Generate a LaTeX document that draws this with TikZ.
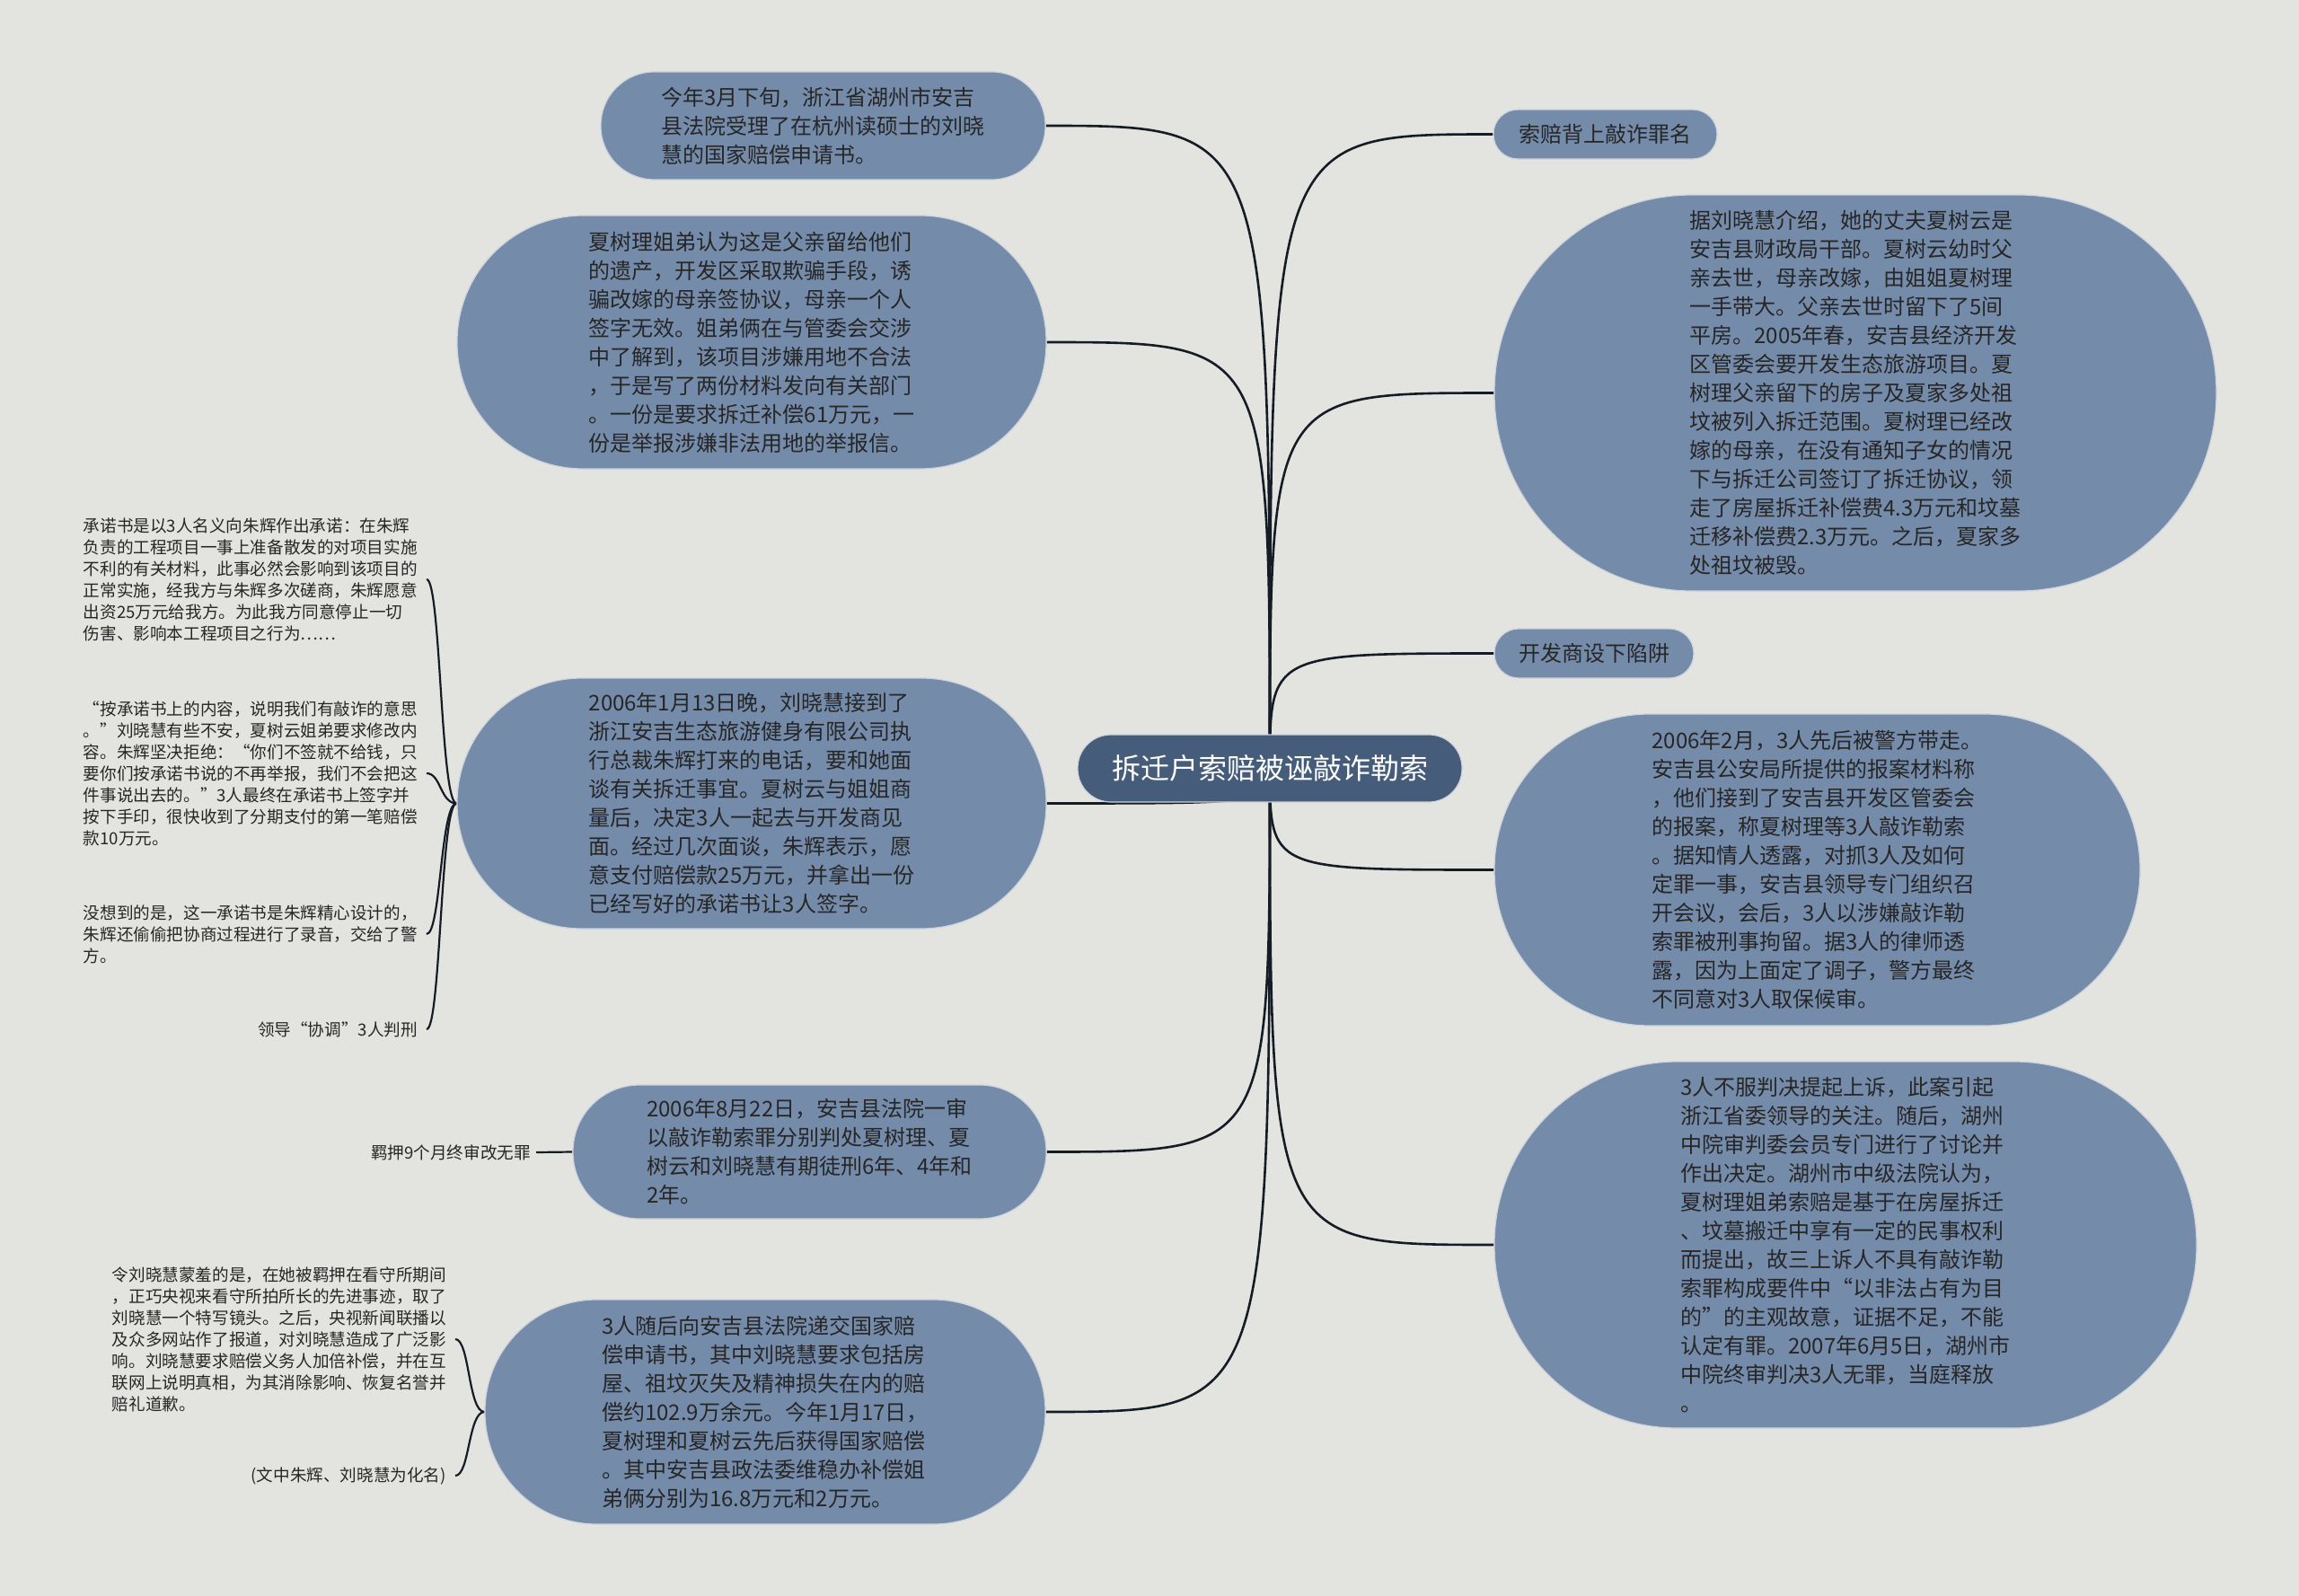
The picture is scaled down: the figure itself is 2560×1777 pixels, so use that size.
\documentclass[tikz,border=0pt]{standalone}
\usepackage{fontspec}
\setmainfont{Noto Sans CJK SC}
\usetikzlibrary{calc}
\pgfdeclarelayer{bglayer}
\pgfsetlayers{bglayer,main}
\definecolor{bgc}{RGB}{227,228,224}
\definecolor{boxc}{RGB}{117,139,170}
\definecolor{rootc}{RGB}{69,92,122}
\definecolor{edgec}{RGB}{205,212,222}
\definecolor{linec}{RGB}{22,28,38}
\definecolor{txtc}{RGB}{38,38,38}
\begin{document}
\begin{tikzpicture}[x=1pt,y=-1pt,
  topic/.style={rectangle, fill=boxc, draw=edgec, line width=1.2pt, inner sep=0pt, align=left, text=txtc, font=\fontsize{24}{32}\selectfont},
  root/.style={rectangle, fill=rootc, draw=edgec, line width=1.2pt, inner sep=0pt, text=white, font=\fontsize{32}{38}\selectfont},
  leaf/.style={inner sep=0pt, align=left, text=txtc, font=\fontsize{18.6}{24}\selectfont},
  conn/.style={draw=linec, line width=2.6pt},
  leafconn/.style={draw=linec, line width=2.2pt},
]
\useasboundingbox (0,0) rectangle (2560,1777);

% root
\node[root, minimum width=428pt, minimum height=75pt, rounded corners=37pt] (C) at (1414,855.5) {拆迁户索赔被诬敲诈勒索};

% left topics
\node[topic, minimum width=495pt, minimum height=120pt, rounded corners=59.5pt] (N1) at (916.5,140) {今年3月下旬，浙江省湖州市安吉\\县法院受理了在杭州读硕士的刘晓\\慧的国家赔偿申请书。};
\node[topic, minimum width=656pt, minimum height=282pt, rounded corners=140.5pt] (N2) at (837,381) {夏树理姐弟认为这是父亲留给他们\\的遗产，开发区采取欺骗手段，诱\\骗改嫁的母亲签协议，母亲一个人\\签字无效。姐弟俩在与管委会交涉\\中了解到，该项目涉嫌用地不合法\\，于是写了两份材料发向有关部门\\。一份是要求拆迁补偿61万元，一\\份是举报涉嫌非法用地的举报信。};
\node[topic, minimum width=656pt, minimum height=279pt, rounded corners=139pt] (N3) at (837,894.5) {2006年1月13日晚，刘晓慧接到了\\浙江安吉生态旅游健身有限公司执\\行总裁朱辉打来的电话，要和她面\\谈有关拆迁事宜。夏树云与姐姐商\\量后，决定3人一起去与开发商见\\面。经过几次面谈，朱辉表示，愿\\意支付赔偿款25万元，并拿出一份\\已经写好的承诺书让3人签字。};
\node[topic, minimum width=527pt, minimum height=149pt, rounded corners=74pt] (N4) at (901.5,1282.5) {2006年8月22日，安吉县法院一审\\以敲诈勒索罪分别判处夏树理、夏\\树云和刘晓慧有期徒刑6年、4年和\\2年。};
\node[topic, minimum width=624pt, minimum height=250pt, rounded corners=124.5pt] (N5) at (852,1572) {3人随后向安吉县法院递交国家赔\\偿申请书，其中刘晓慧要求包括房\\屋、祖坟灭失及精神损失在内的赔\\偿约102.9万余元。今年1月17日，\\夏树理和夏树云先后获得国家赔偿\\。其中安吉县政法委维稳办补偿姐\\弟俩分别为16.8万元和2万元。};

% right topics
\node[topic, minimum width=249pt, minimum height=55pt, rounded corners=27pt] (R1) at (1787.5,149.5) {索赔背上敲诈罪名};
\node[topic, minimum width=804pt, minimum height=441pt, rounded corners=220pt] (R2) at (2066,437.5) {据刘晓慧介绍，她的丈夫夏树云是\\安吉县财政局干部。夏树云幼时父\\亲去世，母亲改嫁，由姐姐夏树理\\一手带大。父亲去世时留下了5间\\平房。2005年春，安吉县经济开发\\区管委会要开发生态旅游项目。夏\\树理父亲留下的房子及夏家多处祖\\坟被列入拆迁范围。夏树理已经改\\嫁的母亲，在没有通知子女的情况\\下与拆迁公司签订了拆迁协议，领\\走了房屋拆迁补偿费4.3万元和坟墓\\迁移补偿费2.3万元。之后，夏家多\\处祖坟被毁。};
\node[topic, minimum width=222pt, minimum height=55pt, rounded corners=27pt] (R3) at (1775,727.5) {开发商设下陷阱};
\node[topic, minimum width=719pt, minimum height=347pt, rounded corners=173pt] (R4) at (2023.5,968.5) {2006年2月，3人先后被警方带走。\\安吉县公安局所提供的报案材料称\\，他们接到了安吉县开发区管委会\\的报案，称夏树理等3人敲诈勒索\\。据知情人透露，对抓3人及如何\\定罪一事，安吉县领导专门组织召\\开会议，会后，3人以涉嫌敲诈勒\\索罪被刑事拘留。据3人的律师透\\露，因为上面定了调子，警方最终\\不同意对3人取保候审。};
\node[topic, minimum width=782pt, minimum height=408pt, rounded corners=203.5pt] (R5) at (2055,1386) {3人不服判决提起上诉，此案引起\\浙江省委领导的关注。随后，湖州\\中院审判委会员专门进行了讨论并\\作出决定。湖州市中级法院认为，\\夏树理姐弟索赔是基于在房屋拆迁\\、坟墓搬迁中享有一定的民事权利\\而提出，故三上诉人不具有敲诈勒\\索罪构成要件中“以非法占有为目\\的”的主观故意，证据不足，不能\\认定有罪。2007年6月5日，湖州市\\中院终审判决3人无罪，当庭释放\\。};

% leaves
\node[leaf, anchor=east] (A1) at (465,645) {承诺书是以3人名义向朱辉作出承诺：在朱辉\\负责的工程项目一事上准备散发的对项目实施\\不利的有关材料，此事必然会影响到该项目的\\正常实施，经我方与朱辉多次磋商，朱辉愿意\\出资25万元给我方。为此我方同意停止一切\\伤害、影响本工程项目之行为……};
\node[leaf, anchor=east] (A2) at (465,861) {“按承诺书上的内容，说明我们有敲诈的意思\\。”刘晓慧有些不安，夏树云姐弟要求修改内\\容。朱辉坚决拒绝：“你们不签就不给钱，只\\要你们按承诺书说的不再举报，我们不会把这\\件事说出去的。”3人最终在承诺书上签字并\\按下手印，很快收到了分期支付的第一笔赔偿\\款10万元。};
\node[leaf, anchor=east] (A3) at (465,1040) {没想到的是，这一承诺书是朱辉精心设计的，\\朱辉还偷偷把协商过程进行了录音，交给了警\\方。};
\node[leaf, anchor=east] (A4) at (465,1146) {领导“协调”3人判刑};
\node[leaf, anchor=east] (B1) at (591,1283) {羁押9个月终审改无罪};
\node[leaf, anchor=east] (C1) at (497,1491) {令刘晓慧蒙羞的是，在她被羁押在看守所期间\\，正巧央视来看守所拍所长的先进事迹，取了\\刘晓慧一个特写镜头。之后，央视新闻联播以\\及众多网站作了报道，对刘晓慧造成了广泛影\\响。刘晓慧要求赔偿义务人加倍补偿，并在互\\联网上说明真相，为其消除影响、恢复名誉并\\赔礼道歉。};
\node[leaf, anchor=east] (C2) at (497,1643) {(文中朱辉、刘晓慧为化名)};

\begin{pgfonlayer}{bglayer}
\fill[bgc] (0,0) rectangle (2560,1777);
\foreach \n in {N1,N2,N3,N4,N5}
  \draw[conn] (C.center) .. controls (C.center |- \n.east) and (C.center |- \n.east) .. (\n.east);
\foreach \n in {R1,R2,R3,R4,R5}
  \draw[conn] (C.center) .. controls (C.center |- \n.west) and (C.center |- \n.west) .. (\n.west);
\foreach \n in {A1,A2,A3,A4}
  \draw[leafconn] (N3.west) .. controls ($(N3.west)+(-18,0)$) and ($(\n.east)+(26,0)$) .. ($(\n.east)+(10,0)$);
\foreach \n in {C1,C2}
  \draw[leafconn] (N5.west) .. controls ($(N5.west)+(-18,0)$) and ($(\n.east)+(26,0)$) .. ($(\n.east)+(10,0)$);
\draw[leafconn] (N4.west) -- ($(B1.east)+(6,0)$);
\end{pgfonlayer}
\end{tikzpicture}
\end{document}
